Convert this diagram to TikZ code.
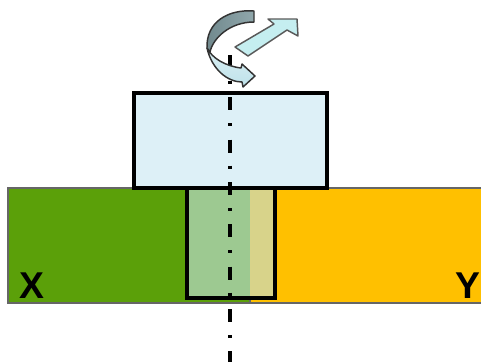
\documentclass[tikz,border=0pt]{standalone}
\usepackage{xcolor}
\usepackage{fontspec}
\setmainfont{Liberation Sans}
\usetikzlibrary{positioning}
\definecolor{platexgreen}{RGB}{91,160,9}
\definecolor{plateyellow}{RGB}{255,192,0}
\definecolor{toolblue}{RGB}{221,240,247}
\definecolor{pingreen}{RGB}{157,201,145}
\definecolor{pinyellow}{RGB}{216,211,138}
\definecolor{arrowblue}{RGB}{190,226,234}
\definecolor{arrowpale}{RGB}{197,238,240}
\definecolor{arrowgray}{RGB}{125,152,157}

\begin{document}
\begin{tikzpicture}[
    x=0.75pt, y=-0.75pt,
    plate/.style args={#1}{
      rectangle,
      draw=black!60,
      fill=#1,
      line width=0.8pt,
      inner sep=0pt,
      minimum height=86.25pt
    },
    pinpart/.style args={#1}{
      rectangle,
      fill=#1,
      inner sep=0pt,
      minimum height=82.5pt
    },
    tool/.style={draw=black, line width=2.3pt, inner sep=0pt},
    letter/.style={font=\fontsize{28}{28}\selectfont\bfseries, inner sep=0pt},
    axis/.style={line width=2.4pt, dash pattern=on 9.75pt off 9.75pt on 2.25pt off 10pt},
    ribbon/.style={draw=black!80, line width=1.1pt, line join=round}
  ]
    \useasboundingbox (0,0) rectangle (481,362);

    % plates
    \node[plate=platexgreen, minimum width=181.5pt] (platex) at (129,245.5) {};
    \node[plate=plateyellow, minimum width=174.75pt] (platey) at (366.5,245.5) {};

    % pin seen through the plates
    \node[pinpart=pingreen, minimum width=47.25pt] (pinx) at (218.5,243) {};
    \node[pinpart=pinyellow, minimum width=18.75pt] (piny) at (262.5,243) {};
    \node[tool, minimum width=66pt, minimum height=82.5pt] (pin) at (231,243) {};
    \node[tool, fill=toolblue, minimum width=144.75pt, minimum height=71.25pt] (head) at (230.5,140.5) {};

    \node[letter] (xlabel) at (32,286) {X};
    \node[letter, anchor=east] (ylabel) at (480.5,286) {Y};

    % rotation axis
    \coordinate (axistop) at (230,55);
    \coordinate (axisbottom) at (230,362);
    \draw[axis] (axistop) -- (axisbottom);

    % straight arrow
    \draw[ribbon, draw=black!65, fill=arrowpale] (235,47) -- (274,24) -- (268,19) -- (297,19)
      -- (298,36) -- (287,30) -- (248,56) -- cycle;

    % curved arrow
    \draw[ribbon, top color=arrowblue!55, bottom color=arrowblue] (207,48) .. controls (212,58) and (225,66) .. (241,68)
      -- (242,64) -- (255,76) -- (243,87) -- (242,82)
      .. controls (228,82) and (212,70) .. (207,48) -- cycle;
    \draw[ribbon, left color=arrowgray!90!black, right color=arrowgray!85] (254,11) .. controls (228,9) and (206,22) .. (207,48)
      -- (210,52)
      .. controls (213,38) and (230,22) .. (254,22) -- cycle;
  \end{tikzpicture}
\end{document}
